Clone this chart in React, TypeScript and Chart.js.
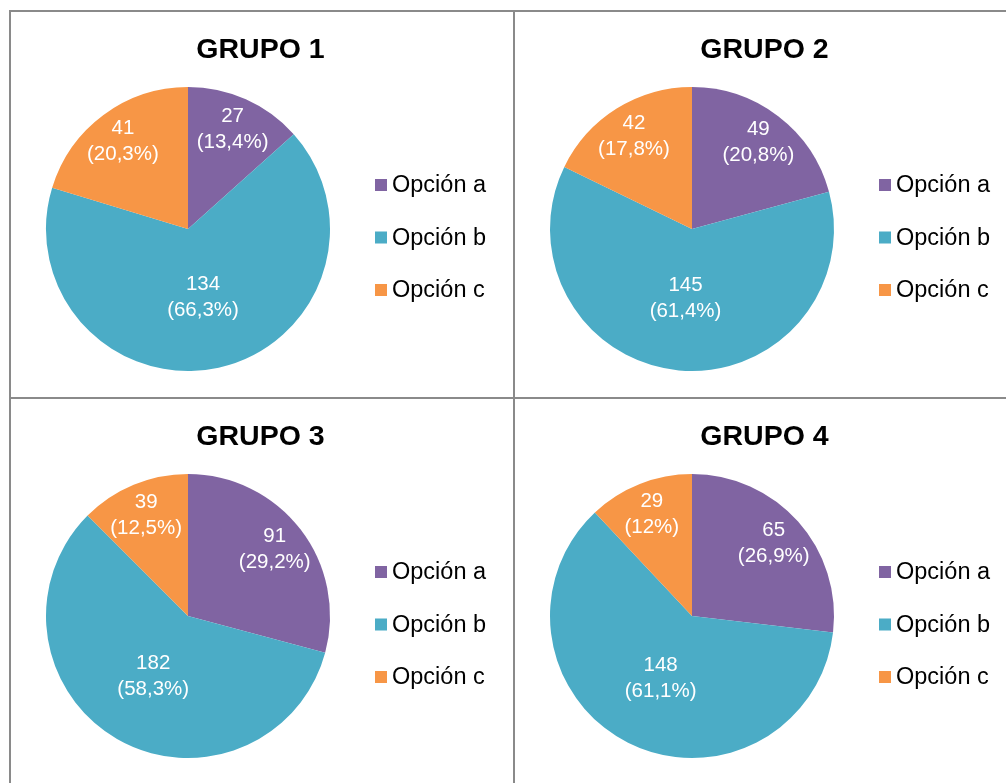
import React, { useEffect, useRef } from "react";
import { Chart, registerables } from "chart.js";

Chart.register(...registerables);

const categories = ["Opción a", "Opción b", "Opción c"];
const groupTitles = ["GRUPO 1", "GRUPO 2", "GRUPO 3", "GRUPO 4"];
const grupo1 = [27, 134, 41];
const grupo2 = [49, 145, 42];
const grupo3 = [91, 182, 39];
const grupo4 = [65, 148, 29];
const pct1 = ["13,4%", "66,3%", "20,3%"];
const pct2 = ["20,8%", "61,4%", "17,8%"];
const pct3 = ["29,2%", "58,3%", "12,5%"];
const pct4 = ["26,9%", "61,1%", "12%"];
const colors = ["#8064A2", "#4BACC6", "#F79646"];

const FONT = "'Liberation Sans', Arial, Helvetica, sans-serif";

const labelPlugin = {
  id: "sliceLabels",
  afterDatasetsDraw(chart: any) {
    const pcts: string[] = chart.options.plugins.sliceLabels.pcts;
    const meta = chart.getDatasetMeta(0);
    const data = chart.data.datasets[0].data as number[];
    const total = data.reduce((a, b) => a + b, 0);
    const ctx = chart.ctx;
    ctx.save();
    ctx.fillStyle = "#ffffff";
    ctx.font = `20.5px ${FONT}`;
    ctx.textAlign = "center";
    ctx.textBaseline = "middle";
    meta.data.forEach((arc: any, i: number) => {
      const p = arc.getProps(["x", "y", "startAngle", "endAngle", "outerRadius"], true);
      const mid = (p.startAngle + p.endAngle) / 2;
      const share = data[i] / total;
      const f = share > 0.5 ? 0.49 : 0.77;
      const cx = p.x + Math.cos(mid) * p.outerRadius * f;
      const cy = p.y + Math.sin(mid) * p.outerRadius * f;
      ctx.fillText(String(data[i]), cx, cy - 13);
      ctx.fillText(`(${pcts[i]})`, cx, cy + 13);
    });
    ctx.restore();
  },
};

const titleLegendPlugin = {
  id: "sideLegend",
  afterDraw(chart: any) {
    const ctx = chart.ctx;
    const area = chart.chartArea;
    const cy = (area.top + area.bottom) / 2;
    const offsets = [-44, 8.5, 61];
    const ds = chart.data.datasets[0];
    ctx.save();
    ctx.fillStyle = "#000000";
    ctx.font = `bold 28.5px ${FONT}`;
    ctx.textAlign = "center";
    ctx.textBaseline = "middle";
    ctx.fillText(chart.options.plugins.sideLegend.title, chart.width / 2 - 1.5, 38);
    ctx.font = `23.5px ${FONT}`;
    ctx.textAlign = "left";
    (chart.data.labels as string[]).forEach((lab, i) => {
      const y = cy + offsets[i];
      ctx.fillStyle = ds.backgroundColor[i];
      ctx.fillRect(area.right + 10, y - 6, 12, 12);
      ctx.fillStyle = "#000000";
      ctx.fillText(lab, area.right + 27, y + 1);
    });
    ctx.restore();
  },
};

function PieChart({ title, values, pcts }: { title: string; values: number[]; pcts: string[] }) {
  const ref = useRef<HTMLCanvasElement>(null);
  useEffect(() => {
    if (!ref.current) return;
    const chart = new Chart(ref.current, {
      type: "pie",
      data: {
        labels: categories,
        datasets: [
          {
            data: values,
            backgroundColor: colors,
            borderWidth: 0,
          },
        ],
      },
      options: {
        responsive: false,
        animation: false,
        radius: 142,
        events: [],
        layout: { padding: { left: 0, right: 148, top: 53, bottom: 4 } },
        plugins: {
          legend: { display: false },
          tooltip: { enabled: false },
          title: { display: false },
          sliceLabels: { pcts },
          sideLegend: { title },
        } as any,
      } as any,
      plugins: [labelPlugin, titleLegendPlugin],
    });
    return () => chart.destroy();
  }, []);
  return <canvas ref={ref} width={502} height={385} style={{ width: 502, height: 385, display: "block" }} />;
}

export default function App() {
  const line = "#8a8a8a";
  const groups = [
    { values: grupo1, pcts: pct1, left: 11, top: 12 },
    { values: grupo2, pcts: pct2, left: 515, top: 12 },
    { values: grupo3, pcts: pct3, left: 11, top: 399 },
    { values: grupo4, pcts: pct4, left: 515, top: 399 },
  ];
  return (
    <div style={{ position: "absolute", left: 0, top: 0, width: 1006, height: 783, overflow: "hidden", background: "#ffffff" }}>
      {groups.map((g, i) => (
        <div key={i} style={{ position: "absolute", left: g.left, top: g.top, width: 502, height: 385 }}>
          <PieChart title={groupTitles[i]} values={g.values} pcts={g.pcts} />
        </div>
      ))}
      <div style={{ position: "absolute", left: 9, top: 10, width: 997, height: 2, background: line }} />
      <div style={{ position: "absolute", left: 9, top: 10, width: 2, height: 773, background: line }} />
      <div style={{ position: "absolute", left: 513, top: 10, width: 2, height: 773, background: line }} />
      <div style={{ position: "absolute", left: 9, top: 397, width: 997, height: 2, background: line }} />
    </div>
  );
}
